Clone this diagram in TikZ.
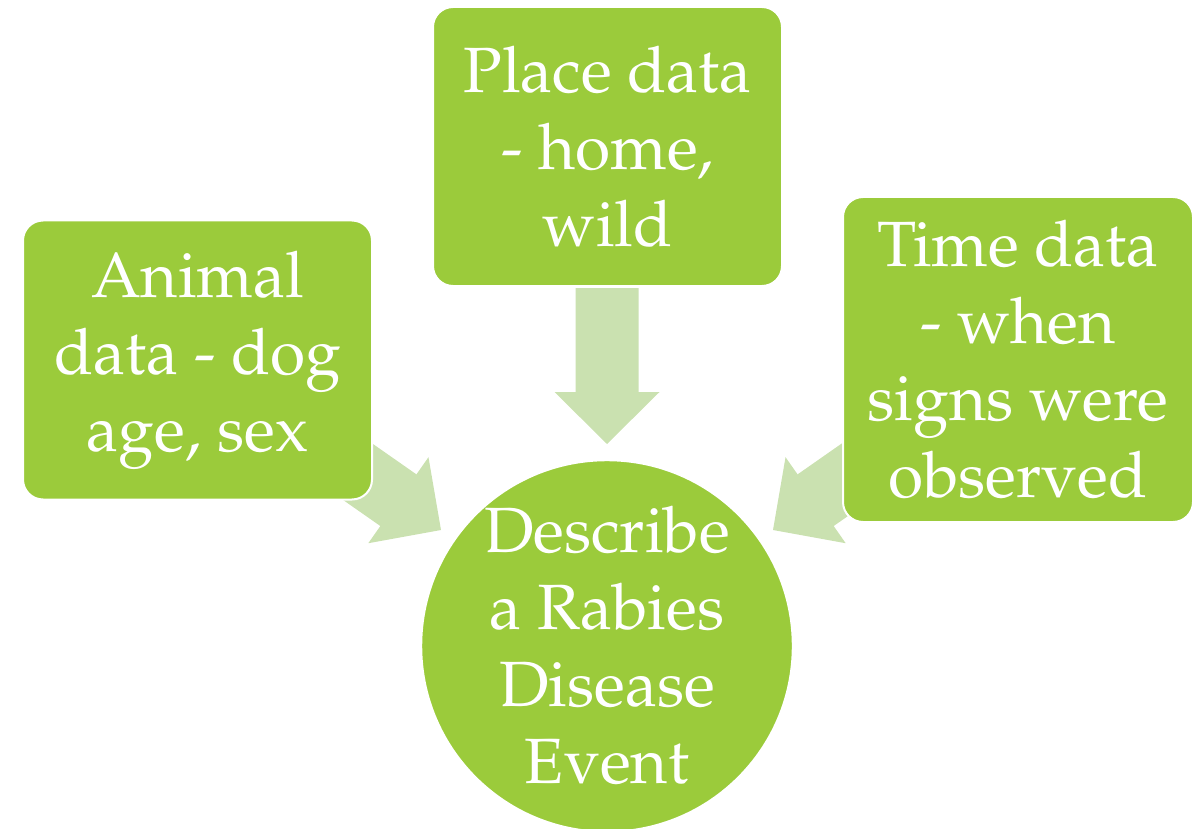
\documentclass[tikz,border=0pt]{standalone}
\usepackage[T1]{fontenc}
\usepackage{mathpazo}
\usepackage{tikz}
\usetikzlibrary{calc}
\definecolor{boxgreen}{HTML}{9BCB3B}
\definecolor{arrowgreen}{HTML}{CAE1B0}

\tikzset{
  infobox/.style={rectangle,rounded corners=20pt,fill=boxgreen,draw=white,line width=2pt,
    minimum width=349pt,minimum height=279pt,align=center,text=white,
    font=\fontsize{64}{77}\selectfont},
  eventcircle/.style={circle,fill=boxgreen,draw=white,line width=2pt,minimum size=366pt,
    inner sep=0pt,align=center,text=white,font=\fontsize{64}{77}\selectfont}
}

% block arrow from #1 (tail) to #2 (tip)
\newcommand{\blockarrow}[2]{%
  \coordinate (#1-base) at ($(#2)!52pt!(#1)$);
  \fill[arrowgreen] ($(#1)!31.5pt!90:(#2)$) -- ($(#1-base)!31.5pt!90:(#2)$)
    -- ($(#1-base)!52.5pt!90:(#2)$) -- (#2) -- ($(#1-base)!52.5pt!-90:(#2)$)
    -- ($(#1-base)!31.5pt!-90:(#2)$) -- ($(#1)!31.5pt!-90:(#2)$) -- cycle;
}

\begin{document}
\begin{tikzpicture}[x=1pt,y=-1pt]
  \useasboundingbox (0,0) rectangle (1199,829);

  \coordinate (placetail) at (607,288);
  \coordinate (placetip) at (607,444);
  \coordinate (animaltail) at (313,440.5);
  \coordinate (animaltip) at (441,530);
  \coordinate (timetail) at (901,440.5);
  \coordinate (timetip) at (773,530);
  \blockarrow{placetail}{placetip}
  \blockarrow{animaltail}{animaltip}
  \blockarrow{timetail}{timetip}

  \node[infobox] (place) at (607.5,146.5) {Place data\\- home,\\wild};
  \node[infobox] (animal) at (197.5,360) {Animal\\data - dog\\age, sex};
  \node[infobox,minimum width=350pt,minimum height=325pt] (time) at (1018,359.5)
    {Time data\\- when\\signs were\\observed};
  \node[eventcircle] (event) at (607,646) {Describe\\a Rabies\\Disease\\Event};
\end{tikzpicture}
\end{document}
